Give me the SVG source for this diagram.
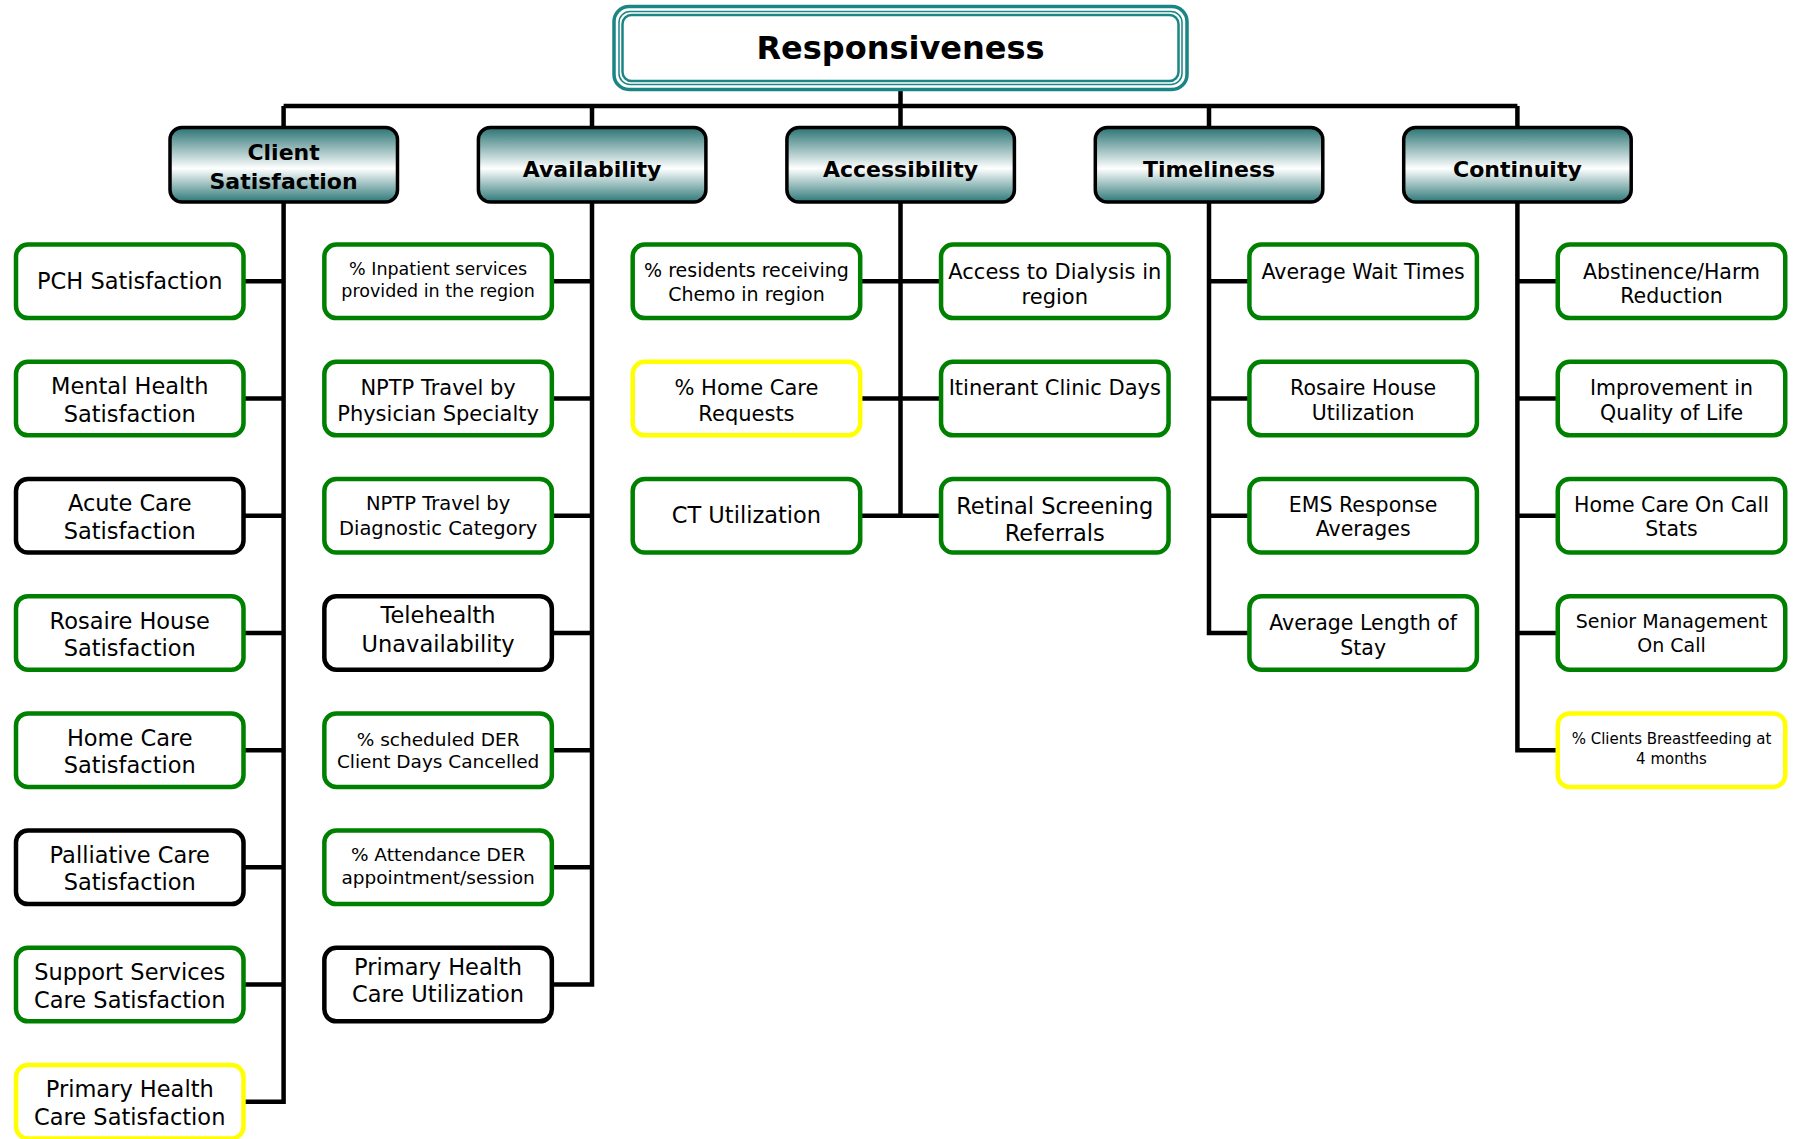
<svg xmlns="http://www.w3.org/2000/svg" width="1793" height="1139" viewBox="0 0 1793 1139">
<defs>
<linearGradient id="cat" x1="0" y1="0" x2="0" y2="1">
<stop offset="0" stop-color="#2a7373"/>
<stop offset="0.55" stop-color="#ffffff"/>
<stop offset="1" stop-color="#2e7878"/>
</linearGradient>
</defs>
<style>
.leaf{fill:#fff;stroke-width:4.5}
.g{stroke:#008000}
.k{stroke:#000}
.y{stroke:#ffff00}
.cat{fill:url(#cat);stroke:#000;stroke-width:3.5}
.t{font-family:"DejaVu Sans","Verdana",sans-serif;text-anchor:middle;fill:#000}
.b{font-weight:bold;font-size:22px}
.conn{fill:none;stroke:#000;stroke-width:4.5;stroke-linejoin:miter}
</style>
<rect width="1793" height="1139" fill="#fff"/>
<g id="connectors" class="conn">
<path d="M900.5 91V106M283.6 106H1517.4M283.6 106V127M592 106V127M900.5 106V127M1209 106V127M1517.4 106V127"/>
<path d="M283.6 203V1101.75H243.5M243.5 281.35H283.6M243.5 398.55H283.6M243.5 515.75H283.6M243.5 632.95H283.6M243.5 750.15H283.6M243.5 867.35H283.6M243.5 984.55H283.6"/>
<path d="M592 203V984.55H551.85M551.85 281.35H592M551.85 398.55H592M551.85 515.75H592M551.85 632.95H592M551.85 750.15H592M551.85 867.35H592"/>
<path d="M900.5 203V515.75M860.2 281.35H941M860.2 398.55H941M860.2 515.75H941"/>
<path d="M1209 203V632.95H1249.4M1209 281.35H1249.4M1209 398.55H1249.4M1209 515.75H1249.4"/>
<path d="M1517.4 203V750.15H1557.75M1517.4 281.35H1557.75M1517.4 398.55H1557.75M1517.4 515.75H1557.75M1517.4 632.95H1557.75"/>
</g>
<g id="title">
<rect x="614" y="6.5" width="573" height="83" rx="15" fill="#fff" stroke="#1a8584" stroke-width="3.5"/>
<rect x="619" y="11.5" width="563" height="73" rx="11" fill="none" stroke="#1a8584" stroke-width="1.5"/>
<rect x="622.5" y="15" width="556" height="66" rx="9" fill="none" stroke="#1a8584" stroke-width="2.5"/>
<text class="t" x="900.5" y="58.5" font-size="32" font-weight="bold">Responsiveness</text>
</g>
<g id="cat-client"><rect class="cat" x="170" y="127.5" width="227.5" height="74.5" rx="12"/><text class="t b" x="283.6" y="160.1">Client</text><text class="t b" x="283.6" y="188.7">Satisfaction</text></g>
<g id="cat-availability"><rect class="cat" x="478.4" y="127.5" width="227.5" height="74.5" rx="12"/><text class="t b" x="592" y="177.2">Availability</text></g>
<g id="cat-accessibility"><rect class="cat" x="786.9" y="127.5" width="227.5" height="74.5" rx="12"/><text class="t b" x="900.5" y="177.2">Accessibility</text></g>
<g id="cat-timeliness"><rect class="cat" x="1095.3" y="127.5" width="227.5" height="74.5" rx="12"/><text class="t b" x="1209" y="177.2">Timeliness</text></g>
<g id="cat-continuity"><rect class="cat" x="1403.7" y="127.5" width="227.5" height="74.5" rx="12"/><text class="t b" x="1517.4" y="177.2">Continuity</text></g>

<g id="pch"><rect class="leaf g" x="16" y="244.6" width="227.5" height="73.5" rx="12"/><text class="t" x="129.75" y="289.4" font-size="22.5">PCH Satisfaction</text></g>
<g id="mental"><rect class="leaf g" x="16" y="361.8" width="227.5" height="73.5" rx="12"/><text class="t" x="129.75" y="394" font-size="22.5">Mental Health</text><text class="t" x="129.75" y="421.5" font-size="22.5">Satisfaction</text></g>
<g id="acute"><rect class="leaf k" x="16" y="479" width="227.5" height="73.5" rx="12"/><text class="t" x="129.75" y="511.3" font-size="22.5">Acute Care</text><text class="t" x="129.75" y="538.8" font-size="22.5">Satisfaction</text></g>
<g id="rosaire-sat"><rect class="leaf g" x="16" y="596.2" width="227.5" height="73.5" rx="12"/><text class="t" x="129.75" y="628.5" font-size="22.5">Rosaire House</text><text class="t" x="129.75" y="656" font-size="22.5">Satisfaction</text></g>
<g id="homecare-sat"><rect class="leaf g" x="16" y="713.4" width="227.5" height="73.5" rx="12"/><text class="t" x="129.75" y="745.7" font-size="22.5">Home Care</text><text class="t" x="129.75" y="773.2" font-size="22.5">Satisfaction</text></g>
<g id="palliative"><rect class="leaf k" x="16" y="830.6" width="227.5" height="73.5" rx="12"/><text class="t" x="129.75" y="862.9" font-size="22.5">Palliative Care</text><text class="t" x="129.75" y="890.4" font-size="22.5">Satisfaction</text></g>
<g id="support"><rect class="leaf g" x="16" y="947.8" width="227.5" height="73.5" rx="12"/><text class="t" x="129.75" y="980" font-size="22.5">Support Services</text><text class="t" x="129.75" y="1007.5" font-size="22.5">Care Satisfaction</text></g>
<g id="phc-sat"><rect class="leaf y" x="16" y="1065" width="227.5" height="73.5" rx="12"/><text class="t" x="129.75" y="1097.3" font-size="22.5">Primary Health</text><text class="t" x="129.75" y="1124.8" font-size="22.5">Care Satisfaction</text></g>

<g id="inpatient"><rect class="leaf g" x="324.35" y="244.6" width="227.5" height="73.5" rx="12"/><text class="t" x="438.1" y="275" font-size="17.5">% Inpatient services</text><text class="t" x="438.1" y="296.6" font-size="17.5">provided in the region</text></g>
<g id="nptp-phys"><rect class="leaf g" x="324.35" y="361.8" width="227.5" height="73.5" rx="12"/><text class="t" x="438.1" y="395.3" font-size="21">NPTP Travel by</text><text class="t" x="438.1" y="420.5" font-size="21">Physician Specialty</text></g>
<g id="nptp-diag"><rect class="leaf g" x="324.35" y="479" width="227.5" height="73.5" rx="12"/><text class="t" x="438.1" y="510.2" font-size="19.5">NPTP Travel by</text><text class="t" x="438.1" y="535.4" font-size="19.5">Diagnostic Category</text></g>
<g id="telehealth"><rect class="leaf k" x="324.35" y="596.2" width="227.5" height="73.5" rx="12"/><text class="t" x="438.1" y="623.4" font-size="22.5">Telehealth</text><text class="t" x="438.1" y="652" font-size="22.5">Unavailability</text></g>
<g id="der-cancel"><rect class="leaf g" x="324.35" y="713.4" width="227.5" height="73.5" rx="12"/><text class="t" x="438.1" y="745.5" font-size="18.5">% scheduled DER</text><text class="t" x="438.1" y="768.4" font-size="18.5">Client Days Cancelled</text></g>
<g id="der-attend"><rect class="leaf g" x="324.35" y="830.6" width="227.5" height="73.5" rx="12"/><text class="t" x="438.1" y="861" font-size="18.5">% Attendance DER</text><text class="t" x="438.1" y="883.8" font-size="18.5">appointment/session</text></g>
<g id="phc-util"><rect class="leaf k" x="324.35" y="947.8" width="227.5" height="73.5" rx="12"/><text class="t" x="438.1" y="974.5" font-size="22.5">Primary Health</text><text class="t" x="438.1" y="1001.9" font-size="22.5">Care Utilization</text></g>

<g id="chemo"><rect class="leaf g" x="632.7" y="244.6" width="227.5" height="73.5" rx="12"/><text class="t" x="746.45" y="276.9" font-size="19">% residents receiving</text><text class="t" x="746.45" y="300.9" font-size="19">Chemo in region</text></g>
<g id="homecare-req"><rect class="leaf y" x="632.7" y="361.8" width="227.5" height="73.5" rx="12"/><text class="t" x="746.45" y="395.3" font-size="21">% Home Care</text><text class="t" x="746.45" y="420.5" font-size="21">Requests</text></g>
<g id="ct"><rect class="leaf g" x="632.7" y="479" width="227.5" height="73.5" rx="12"/><text class="t" x="746.45" y="522.8" font-size="22.5">CT Utilization</text></g>
<g id="dialysis"><rect class="leaf g" x="941.05" y="244.6" width="227.5" height="73.5" rx="12"/><text class="t" x="1054.8" y="278.7" font-size="21">Access to Dialysis in</text><text class="t" x="1054.8" y="303.9" font-size="21">region</text></g>
<g id="itinerant"><rect class="leaf g" x="941.05" y="361.8" width="227.5" height="73.5" rx="12"/><text class="t" x="1054.8" y="395.3" font-size="21">Itinerant Clinic Days</text></g>
<g id="retinal"><rect class="leaf g" x="941.05" y="479" width="227.5" height="73.5" rx="12"/><text class="t" x="1054.8" y="513.6" font-size="22.5">Retinal Screening</text><text class="t" x="1054.8" y="541.1" font-size="22.5">Referrals</text></g>

<g id="wait"><rect class="leaf g" x="1249.4" y="244.6" width="227.5" height="73.5" rx="12"/><text class="t" x="1363.15" y="278.5" font-size="20.5">Average Wait Times</text></g>
<g id="rosaire-util"><rect class="leaf g" x="1249.4" y="361.8" width="227.5" height="73.5" rx="12"/><text class="t" x="1363.15" y="395.1" font-size="20.5">Rosaire House</text><text class="t" x="1363.15" y="420.3" font-size="20.5">Utilization</text></g>
<g id="ems"><rect class="leaf g" x="1249.4" y="479" width="227.5" height="73.5" rx="12"/><text class="t" x="1363.15" y="511.8" font-size="20.5">EMS Response</text><text class="t" x="1363.15" y="535.8" font-size="20.5">Averages</text></g>
<g id="los"><rect class="leaf g" x="1249.4" y="596.2" width="227.5" height="73.5" rx="12"/><text class="t" x="1363.15" y="629.5" font-size="20.5">Average Length of</text><text class="t" x="1363.15" y="654.7" font-size="20.5">Stay</text></g>

<g id="abstinence"><rect class="leaf g" x="1557.75" y="244.6" width="227.5" height="73.5" rx="12"/><text class="t" x="1671.5" y="278.5" font-size="20.5">Abstinence/Harm</text><text class="t" x="1671.5" y="302.5" font-size="20.5">Reduction</text></g>
<g id="qol"><rect class="leaf g" x="1557.75" y="361.8" width="227.5" height="73.5" rx="12"/><text class="t" x="1671.5" y="395.1" font-size="20.5">Improvement in</text><text class="t" x="1671.5" y="420.3" font-size="20.5">Quality of Life</text></g>
<g id="homecare-oncall"><rect class="leaf g" x="1557.75" y="479" width="227.5" height="73.5" rx="12"/><text class="t" x="1671.5" y="511.8" font-size="20.5">Home Care On Call</text><text class="t" x="1671.5" y="535.8" font-size="20.5">Stats</text></g>
<g id="senior"><rect class="leaf g" x="1557.75" y="596.2" width="227.5" height="73.5" rx="12"/><text class="t" x="1671.5" y="627.9" font-size="19">Senior Management</text><text class="t" x="1671.5" y="652" font-size="19">On Call</text></g>
<g id="breastfeeding"><rect class="leaf y" x="1557.75" y="713.4" width="227.5" height="73.5" rx="12"/><text class="t" x="1671.5" y="744.2" font-size="15">% Clients Breastfeeding at</text><text class="t" x="1671.5" y="763.6" font-size="15">4 months</text></g>
</svg>
